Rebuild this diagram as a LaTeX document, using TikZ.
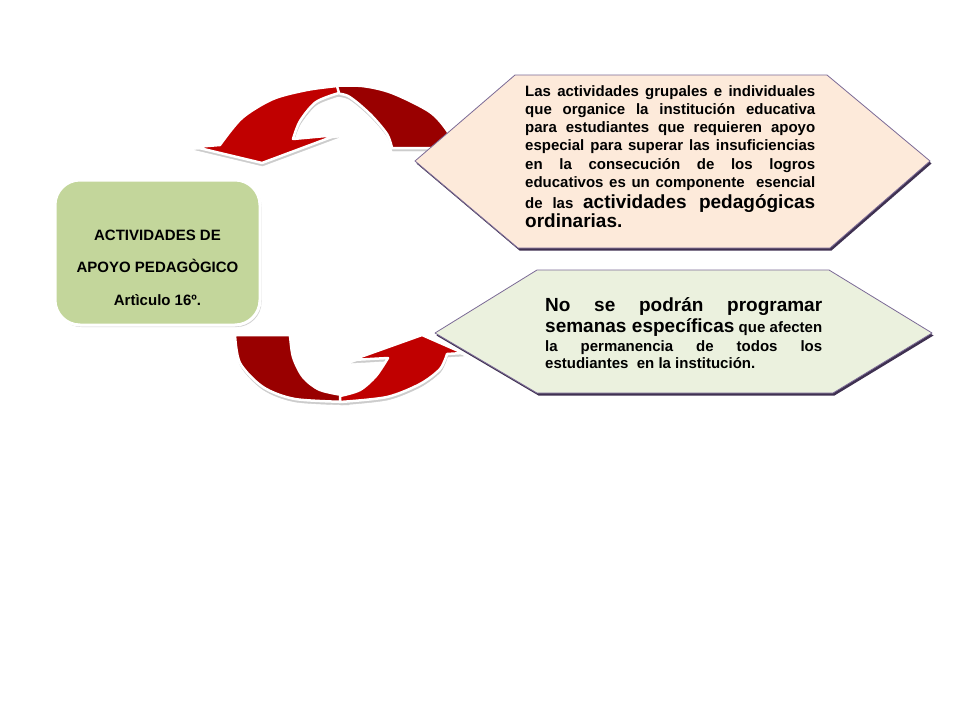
\documentclass[tikz,border=0pt]{standalone}
\usepackage{fontspec}
\setmainfont{Liberation Sans}
\usetikzlibrary{shadows}
\definecolor{rojoclaro}{HTML}{C00000}
\definecolor{rojooscuro}{HTML}{990000}
\definecolor{verdecaja}{HTML}{C3D69B}
\definecolor{durazno}{HTML}{FDEADA}
\definecolor{verdeclaro}{HTML}{EBF1DE}
\definecolor{bordehex}{HTML}{7B6A96}
\definecolor{sombrahex}{HTML}{3F3151}
\newcommand{\grande}{\fontsize{19}{21}\selectfont}
\newcommand{\lineasup}[1]{\makebox[290pt][s]{#1}}
\newcommand{\lineainf}[1]{\makebox[277pt][s]{#1}}

\begin{document}
\begin{tikzpicture}[x=1pt,y=-1pt,
  cinta/.style={draw=white,line width=2.5pt,line join=round,
    drop shadow={shadow xshift=0.5pt,shadow yshift=-3pt,fill=gray!40,draw=gray!40,opacity=1}},
  hexa/.style={draw=bordehex,line width=0.8pt,line join=round,
    drop shadow={shadow xshift=1.5pt,shadow yshift=-2.5pt,fill=sombrahex,opacity=1}},
  caja/.style={draw=white,line width=3pt,fill=verdecaja,rounded corners=25pt,
    minimum width=205pt,minimum height=145pt,
    drop shadow={shadow xshift=1.5pt,shadow yshift=-2pt,fill=gray!35,opacity=1}},
  texto/.style={inner sep=0pt,anchor=base west,align=justify,
    font=\bfseries\fontsize{15}{18.3}\selectfont}]
	\fill[white] (0,0) rectangle (960,720);
	\useasboundingbox (0,0) rectangle (960,720);
	% flecha de arriba
	\path[cinta,fill=rojooscuro] plot[smooth] coordinates {(330,86) (362,86) (392,93) (430,112) (448,132) (454,148)}
	  -- (392,148) -- plot[smooth] coordinates {(392,148) (387,134) (370,114) (348,96) (330,93)} -- cycle;
	\path[cinta,fill=rojoclaro] plot[smooth] coordinates {(337,86) (307,90) (273,99) (242,118) (220,145)}
	  -- (195,147) -- (262,163) -- (337,135)
	  -- plot[smooth] coordinates {(293,139) (300,121) (316,102) (339,93)} -- cycle;
	% flecha de abajo
	\path[cinta,fill=rojooscuro] plot[smooth] coordinates {(235,335) (240,363) (263,387) (295,399) (348,402)}
	  -- plot[smooth] coordinates {(348,396) (320,390) (303,377) (293,357) (290,335)} -- cycle;
	\path[cinta,fill=rojoclaro] plot[smooth] coordinates {(340,402) (387,397) (420,384) (440,369) (447,354)}
	  -- (463,353) -- (422,335) -- (352,360)
	  -- plot[smooth] coordinates {(388,358) (376,376) (360,390) (340,396)} -- cycle;
	% hexagonos
	\path[hexa,fill=durazno] (415,161) -- (515,75) -- (827,75) -- (930,161) -- (830,248) -- (518,248) -- cycle;
	\path[hexa,fill=verdeclaro] (435,333) -- (537,270) -- (829,270) -- (932,333) -- (833,393) -- (537,393) -- cycle;
	\node[caja] (caja) at (157.5,252.5) {};
	\node[inner sep=0pt,anchor=base,align=center,font=\bfseries\fontsize{15}{32.5}\selectfont] (apoyo) at (157.5,305)
	  {ACTIVIDADES DE\\APOYO PEDAGÒGICO\\Artìculo 16º.};
	\node[texto,text width=290pt] (grupales) at (525,96) {%
	  \lineasup{Las actividades grupales e individuales}\\
	  \lineasup{que organice la institución educativa}\\
	  \lineasup{para estudiantes que requieren apoyo}\\
	  \lineasup{especial para superar las insuficiencias}\\
	  \lineasup{en la consecución de los logros}\\
	  \lineasup{educativos es un componente\ \ esencial}\\[2.7pt]
	  \lineasup{de las {\grande actividades pedagógicas}}\\[0.7pt]
	  {\grande ordinarias.}};
	\node[texto,text width=277pt,font=\bfseries\fontsize{15}{17}\selectfont] (semanas) at (545,311) {%
	  \lineainf{\grande No se podrán programar}\\[3pt]
	  \lineainf{{\grande semanas específicas} que afecten}\\[2pt]
	  \lineainf{la permanencia de todos los}\\
	  estudiantes\ \ en la institución.};
\end{tikzpicture}
\end{document}
